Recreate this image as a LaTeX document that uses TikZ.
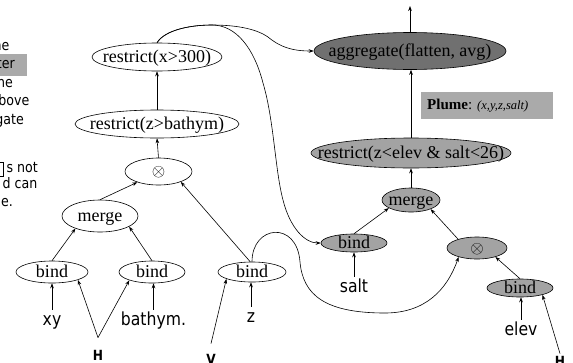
\documentclass[tikz,border=0pt]{standalone}
\usepackage{fontspec}
\setmainfont{Liberation Serif}
\newfontfamily\tah[FakeStretch=0.87]{DejaVu Sans}
\usetikzlibrary{arrows.meta,shapes.geometric}
\definecolor{aggfill}{RGB}{112,112,112}
\definecolor{midfill}{RGB}{163,163,163}
\definecolor{boxfill}{RGB}{170,170,170}
\newcommand\elltext[1]{\makebox[0pt]{\raisebox{-0.28em}[0pt][0pt]{#1}}}
\begin{document}
\begin{tikzpicture}[x=1pt,y=-1pt,
  el/.style={ellipse, draw, line width=0.6pt, inner sep=0pt, font=\fontsize{18}{18}\selectfont},
  wn/.style={el, fill=white},
  gn/.style={el, fill=midfill},
  dn/.style={el, fill=aggfill},
  lab/.style={font=\tah\fontsize{18}{18}\selectfont, anchor=base, inner sep=2pt, text height=13pt, text depth=4pt},
  hv/.style={font=\tah\bfseries\fontsize{14}{14}\selectfont, anchor=base, inner sep=1pt},
  frag/.style={font=\tah\fontsize{14.5}{14.5}\selectfont, anchor=base east, inner sep=0pt},
  arr/.style={-{Stealth[length=5pt,width=3.6pt]}, line width=0.6pt}]
\useasboundingbox (0,0) rectangle (573,362);

% left text fragments
\node[fill=boxfill, anchor=north west, minimum width=32pt, minimum height=22pt, inner sep=0pt] (hl) at (-5,54) {};
\node[frag] (f1) at (9.5,50) {ne};
\node[frag] (f2) at (15,68) {ter};
\node[frag] (f3) at (13,87) {ne};
\node[frag] (f4) at (29.5,105) {bove};
\node[frag] (f5) at (24,124) {gate};
\node[draw, line width=0.7pt, anchor=north west, minimum width=13pt, minimum height=14pt, inner sep=0pt] (bx) at (-10,162) {};
\node[frag] (f6) at (38,172) {s not};
\node[frag] (f7) at (37.5,188) {d can};
\node[frag] (f8) at (13,206) {e.};

% white graph
\node[wn, minimum width=130pt, minimum height=28pt] (rx) at (157,57) {\elltext{restrict(x>300)}};
\node[wn, minimum width=164pt, minimum height=28pt] (rz) at (157,124) {\elltext{restrict(z>bathym)}};
\node[wn, minimum width=67pt, minimum height=27pt] (ox) at (158.5,171.5) {\elltext{$\otimes$}};
\node[wn, minimum width=76pt, minimum height=32pt] (mL) at (100,216) {\elltext{merge}};
\node[wn, minimum width=72pt, minimum height=22pt] (bL) at (52,272) {\elltext{bind}};
\node[wn, minimum width=66pt, minimum height=22pt] (bM) at (152,272) {\elltext{bind}};
\node[wn, minimum width=68pt, minimum height=20pt] (bZ) at (252,272) {\elltext{bind}};

% gray graph
\node[dn, minimum width=192pt, minimum height=37pt] (agg) at (410,51) {\elltext{aggregate(flatten, avg)}};
\node[gn, minimum width=200pt, minimum height=30pt] (rg) at (411,153) {\elltext{restrict(z<elev \& salt<26)}};
\node[gn, minimum width=58pt, minimum height=24pt] (mG) at (411,200) {\elltext{merge}};
\node[gn, minimum width=66pt, minimum height=18pt] (bS) at (354,243) {\elltext{bind}};
\node[gn, minimum width=60pt, minimum height=22pt] (oG) at (477,248) {\elltext{$\otimes$}};
\node[gn, minimum width=66pt, minimum height=18pt] (bE) at (520,288) {\elltext{bind}};

\node[fill=boxfill, anchor=north west, minimum height=27pt, inner ysep=0pt, inner xsep=6pt, text width=120pt, align=left] (pl) at (421,92)
  {\fontsize{15}{15}\selectfont\textbf{Plume}: {\fontsize{12.5}{13}\selectfont\itshape (x,y,z,salt)}};

% labels
\node[lab] (xy) at (52,325) {xy};
\node[lab] (bth) at (153.5,325) {bathym.};
\node[lab] (z) at (251,322) {z};
\node[lab] (salt) at (354,292) {salt};
\node[lab] (elev) at (521,335) {elev};
\node[hv] (H) at (98,360) {H};
\node[hv] (V) at (211,364) {V};
\node[hv] (H2) at (560,366) {H};
\coordinate (top) at (410,6);

% edges white
\draw[arr] (xy.north) -- (bL.south);
\draw[arr] (bth.north) -- (bth.north |- bM.south);
\draw[arr] ([yshift=11pt]H.north) -- (bL.-17);
\draw[arr] ([yshift=11pt]H.north) -- (bM.200.6);
\draw[arr] (bL.north) -- (mL.207);
\draw[arr] (bM.north) -- (mL.-20.6);
\draw[arr] (mL.north) -- (ox.207.6);
\draw[arr] (ox.north) -- (rz.south);
\draw[arr] (rz.north) -- (rx.south);
\draw[arr] (z.north) -- (z.north |- bZ.south);
\draw[arr] ([yshift=9pt]V.north) -- (bZ.195);
\draw[arr] (bZ.100) -- (ox.-25);
\draw[arr] (bZ.north) .. controls (252,225) and (297,220) .. (300,262)
   .. controls (303,295) and (325,313) .. (385,313)
   .. controls (425,313) and (447,290) .. (oG.206.6);
\draw[arr] (rx.north) .. controls (165,30) and (190,25) .. (212,25)
   .. controls (240,25) and (258,30) .. (268,37)
   .. controls (280,47) and (292,51) .. (agg.west);
\draw[arr] (rx.north) .. controls (165,30) and (190,25) .. (212,25)
   .. controls (236,25) and (254,48) .. (263,83)
   .. controls (274,120) and (275,170) .. (283,200)
   .. controls (290,228) and (305,243) .. (bS.west);

% edges gray
\draw[arr] (salt.north) -- (bS.south);
\draw[arr] (bS.north) -- (mG.200.6);
\draw[arr] (elev.north) -- (elev.north |- bE.south);
\draw[arr] ([yshift=1pt]H2.north) -- (bE.-17.7);
\draw[arr] (bE.north) -- (oG.-26.6);
\draw[arr] (oG.155.6) -- (mG.-25.5);
\draw[arr] (mG.north) -- (rg.south);
\draw[arr] (rg.north) -- (rg.north |- agg.south);
\draw[arr] (agg.north) -- (top);
\end{tikzpicture}
\end{document}
